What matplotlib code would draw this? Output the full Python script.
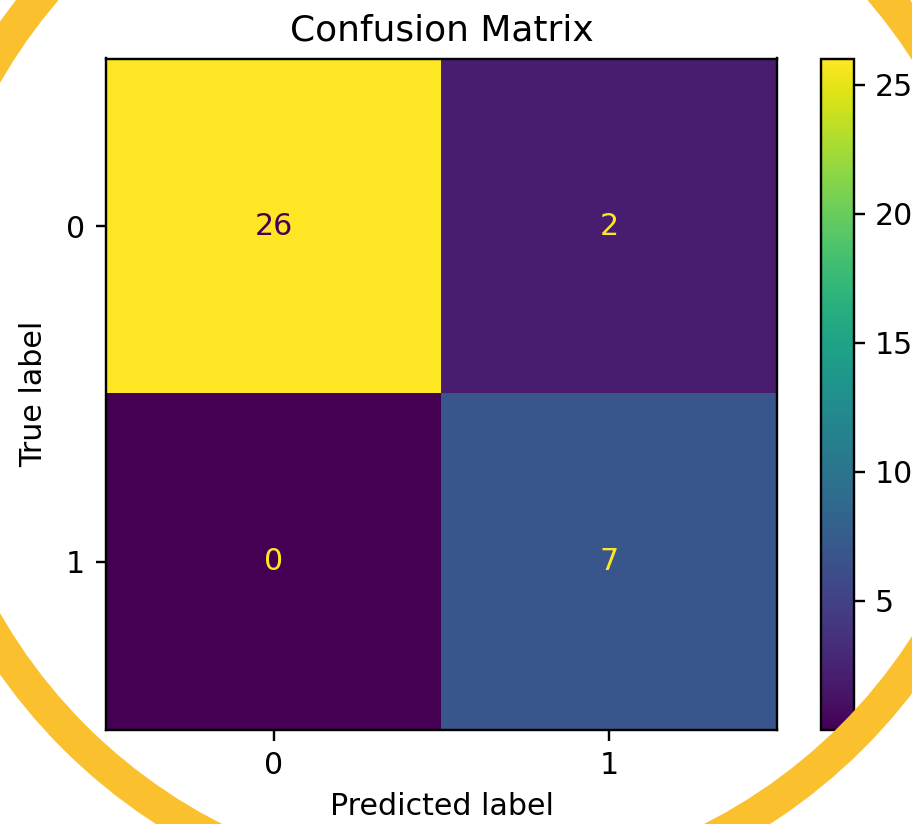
import matplotlib
matplotlib.use("Agg")
import matplotlib.pyplot as plt
import numpy as np
from matplotlib.patches import Ellipse

# confusion matrix values
cm = np.array([[26, 2],
               [0, 7]])
class_labels = ["0", "1"]
cbar_ticks = [5, 10, 15, 20, 25]

W, H, DPI = 912, 824, 216
fig = plt.figure(figsize=(W / DPI, H / DPI), dpi=DPI)

ax = fig.add_axes([106 / W, 1 - 730 / H, 671 / W, 672 / H])
im = ax.imshow(cm, cmap="viridis", interpolation="nearest", vmin=0, vmax=cm.max())

cmap_min, cmap_max = im.cmap(0.0), im.cmap(1.0)
thresh = (cm.max() + cm.min()) / 2.0
for i in range(cm.shape[0]):
    for j in range(cm.shape[1]):
        color = cmap_max if cm[i, j] < thresh else cmap_min
        ax.text(j, i, str(cm[i, j]), ha="center", va="center", color=color)

ax.set_xticks(range(len(class_labels)))
ax.set_xticklabels(class_labels)
ax.set_yticks(range(len(class_labels)))
ax.set_yticklabels(class_labels)
ax.set_xlabel("Predicted label")
ax.set_ylabel("True label", labelpad=6)
ax.set_title("Confusion Matrix")

cax = fig.add_axes([821 / W, 1 - 730 / H, 33 / W, 671 / H])
cbar = fig.colorbar(im, cax=cax)
cbar.set_ticks(cbar_ticks)

# yellow ring around the chart
ring = Ellipse((463 / W, 1 - 348 / H), 2 * 550 / W, 2 * 550 / H,
               transform=fig.transFigure, fill=False,
               edgecolor="#FBC02D", linewidth=33 * 72 / DPI, zorder=10)
fig.add_artist(ring)

fig.savefig("out.png", dpi=DPI)
